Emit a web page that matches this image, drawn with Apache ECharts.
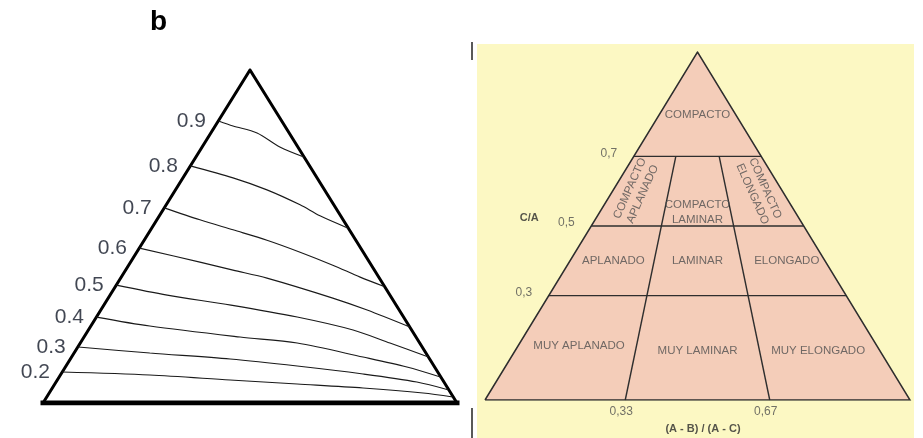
<!DOCTYPE html>
<html>
<head>
<meta charset="utf-8">
<script src="https://cdn.jsdelivr.net/npm/echarts@6/dist/echarts.min.js"></script>
<style>
  html, body { margin: 0; padding: 0; background: #fff; }
  #chart { width: 923px; height: 438px; }
</style>
</head>
<body>
<div id="chart"></div>
<script>
// panel b: contour levels traced across the triangle (x along base 0..1, y height 0..1)
const contourLevels = ['0.9', '0.8', '0.7', '0.6', '0.5', '0.4', '0.3', '0.2']
const contour09 = [[0.424, 0.847], [0.459, 0.832], [0.517, 0.811], [0.572, 0.769], [0.630, 0.739]]
const contour08 = [[0.356, 0.712], [0.459, 0.676], [0.541, 0.640], [0.621, 0.595], [0.669, 0.562], [0.737, 0.525]]
const contour07 = [[0.293, 0.586], [0.379, 0.550], [0.459, 0.520], [0.541, 0.489], [0.621, 0.453], [0.700, 0.414], [0.766, 0.378], [0.824, 0.350]]
const contour06 = [[0.233, 0.465], [0.379, 0.423], [0.459, 0.399], [0.541, 0.375], [0.700, 0.315], [0.783, 0.279], [0.886, 0.228]]
const contour05 = [[0.177, 0.354], [0.300, 0.324], [0.454, 0.294], [0.614, 0.258], [0.749, 0.219], [0.838, 0.180], [0.931, 0.138]]
const contour04 = [[0.129, 0.258], [0.258, 0.231], [0.476, 0.198], [0.614, 0.180], [0.773, 0.138], [0.879, 0.108], [0.960, 0.078]]
const contour03 = [[0.085, 0.168], [0.258, 0.150], [0.452, 0.132], [0.614, 0.111], [0.773, 0.087], [0.903, 0.063], [0.978, 0.040]]
const contour02 = [[0.047, 0.093], [0.258, 0.084], [0.452, 0.069], [0.614, 0.057], [0.773, 0.045], [0.918, 0.030], [0.990, 0.018]]
const contourCurves = [contour09, contour08, contour07, contour06, contour05, contour04, contour03, contour02]

// shape classes: C/A rows and (A - B)/(A - C) splits
const caLevels = [0.3, 0.5, 0.7]
const caLabels = ['0,3', '0,5', '0,7']
const abLevels = [0.33, 0.67]
const abLabels = ['0,33', '0,67']
const caTitle = 'C/A'
const abTitle = '(A - B) / (A - C)'
const classNames = ['COMPACTO', 'COMPACTO\nAPLANADO', 'COMPACTO\nLAMINAR', 'COMPACTO\nELONGADO',
  'APLANADO', 'LAMINAR', 'ELONGADO', 'MUY APLANADO', 'MUY LAMINAR', 'MUY ELONGADO']
const classAB = [0.5, 0.14, 0.5, 0.86, 0.17, 0.5, 0.85, 0.17, 0.5, 0.83]
const classCA = [0.82, 0.6, 0.54, 0.6, 0.4, 0.4, 0.4, 0.155, 0.14, 0.14]
const classTilt = [0, 66, 0, -66, 0, 0, 0, 0, 0, 0]

const font = 'Liberation Sans, Arial, sans-serif'
const lineGray = '#2e2e2e'
const textGray = '#4f4f4f'

// ternary -> grid coords: apex at (0.5, 1)
const toXY = (ab, ca) => [ab * (1 - ca) + 0.5 * ca, ca]

const chart = echarts.init(document.getElementById('chart'))

const axisOff = (idx) => ({ type: 'value', min: 0, max: 1, show: false, gridIndex: idx })

const series = []

// ---- left panel ----
series.push({
  type: 'line', xAxisIndex: 0, yAxisIndex: 0, symbol: 'none', silent: true,
  data: [[0, 0], [0.5, 1], [1, 0]],
  lineStyle: { color: '#000', width: 3, join: 'miter' }
})
series.push({
  type: 'line', xAxisIndex: 0, yAxisIndex: 0, symbol: 'none', silent: true,
  data: [[0, 0], [1, 0]],
  lineStyle: { color: '#000', width: 5, cap: 'square' }
})
contourCurves.forEach((curve, i) => {
  series.push({
    name: contourLevels[i],
    type: 'line', xAxisIndex: 0, yAxisIndex: 0, symbol: 'none', silent: true,
    smooth: 0.3,
    data: curve,
    lineStyle: { color: '#1a1a1a', width: 1.1 }
  })
})
series.push({
  type: 'scatter', xAxisIndex: 0, yAxisIndex: 0, silent: true, clip: false,
  symbolSize: 1, itemStyle: { color: 'rgba(0,0,0,0)' },
  data: contourCurves.map((c, i) => ({ value: c[0], name: contourLevels[i] })),
  label: {
    show: true, position: 'left', distance: 12, formatter: '{b}',
    fontFamily: font, fontSize: 21, color: '#111827'
  }
})

// ---- right panel ----
series.push({
  type: 'line', xAxisIndex: 1, yAxisIndex: 1, symbol: 'none', silent: true,
  data: [[0, 0], [0.5, 1], [1, 0], [0, 0]],
  lineStyle: { color: lineGray, width: 1.5, join: 'miter' },
  areaStyle: { color: '#f4cdb9', opacity: 1 }
})
caLevels.forEach((c) => {
  series.push({
    type: 'line', xAxisIndex: 1, yAxisIndex: 1, symbol: 'none', silent: true,
    data: [toXY(0, c), toXY(1, c)],
    lineStyle: { color: lineGray, width: 1.4 }
  })
})
abLevels.forEach((p) => {
  series.push({
    type: 'line', xAxisIndex: 1, yAxisIndex: 1, symbol: 'none', silent: true,
    data: [toXY(p, 0), toXY(p, caLevels[2])],
    lineStyle: { color: lineGray, width: 1.4 }
  })
})

const tickText = { fontFamily: font, fontSize: 12, color: textGray }
series.push({
  type: 'scatter', xAxisIndex: 1, yAxisIndex: 1, silent: true, clip: false,
  symbolSize: 1, itemStyle: { color: 'rgba(0,0,0,0)' },
  data: caLevels.map((c, i) => ({ value: toXY(0, c), name: caLabels[i] })),
  label: { show: true, position: 'left', distance: 16, offset: [0, -3], formatter: '{b}', ...tickText }
})
series.push({
  type: 'scatter', xAxisIndex: 1, yAxisIndex: 1, silent: true, clip: false,
  symbolSize: 1, itemStyle: { color: 'rgba(0,0,0,0)' },
  data: abLevels.map((p, i) => ({ value: toXY(p, 0), name: abLabels[i] })),
  label: { show: true, position: 'bottom', distance: 5, offset: [-4, 0], formatter: '{b}', ...tickText }
})
series.push({
  type: 'scatter', xAxisIndex: 1, yAxisIndex: 1, silent: true, clip: false,
  symbolSize: 1, itemStyle: { color: 'rgba(0,0,0,0)' },
  data: [
    { value: [0.104, 0.523], name: caTitle },
    { value: [0.513, -0.083], name: abTitle }
  ],
  label: { show: true, position: 'inside', formatter: '{b}', ...tickText, fontSize: 11, color: '#2a2a2a', fontWeight: 'bold' }
})

const classLabel = { show: true, position: 'inside', formatter: '{b}', fontFamily: font, fontSize: 11.5, color: textGray }
series.push({
  type: 'scatter', xAxisIndex: 1, yAxisIndex: 1, silent: true, clip: false, z: 10,
  symbolSize: 1, itemStyle: { color: 'rgba(0,0,0,0)' },
  data: classNames.map((n, i) => ({
    value: toXY(classAB[i], classCA[i]),
    name: n,
    label: { ...classLabel, rotate: classTilt[i], lineHeight: classTilt[i] ? 14 : 15 }
  })),
  label: classLabel
})

const option = {
  animation: false,
  backgroundColor: '#fff',
  title: {
    text: 'b', left: 145, top: 3,
    textStyle: { fontFamily: font, fontSize: 28, fontWeight: 'bold', color: '#000' }
  },
  graphic: [
    { type: 'rect', z: 0, shape: { x: 477, y: 44, width: 437, height: 394 }, style: { fill: '#fcf8c3' } },
    { type: 'line', z: 0, shape: { x1: 472, y1: 42, x2: 472, y2: 60 }, style: { stroke: '#222', lineWidth: 1.5 } },
    { type: 'line', z: 0, shape: { x1: 472, y1: 408, x2: 472, y2: 438 }, style: { stroke: '#222', lineWidth: 1.5 } }
  ],
  grid: [
    { left: 43, top: 70, width: 414, height: 333 },
    { left: 485, top: 52, width: 425, height: 348 }
  ],
  xAxis: [axisOff(0), axisOff(1)],
  yAxis: [axisOff(0), axisOff(1)],
  series
}

chart.setOption(option)
window.addEventListener('resize', () => chart.resize())
</script>
</body>
</html>
